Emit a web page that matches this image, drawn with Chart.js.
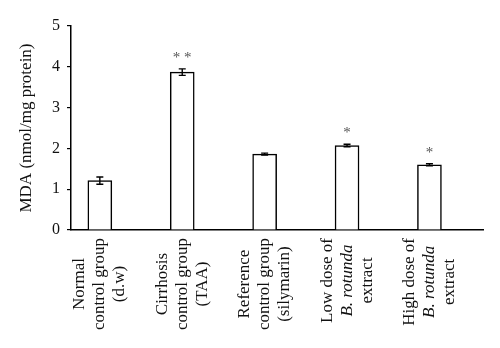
<!DOCTYPE html>
<html>
<head>
<meta charset="utf-8">
<script src="https://cdn.jsdelivr.net/npm/chart.js@4.4.1/dist/chart.umd.min.js"></script>
<style>
html,body{margin:0;padding:0;background:#fff;}
#wrap{width:500px;height:348px;}
</style>
</head>
<body>
<div id="wrap"><canvas id="c" width="500" height="348"></canvas></div>
<script>
const categories = [
  ["Normal", "control group", "(d.w)"],
  ["Cirrhosis", "control group", "(TAA)"],
  ["Reference", "control group", "(silymarin)"],
  ["Low dose of", "B. rotunda", "extract"],
  ["High dose of", "B. rotunda", "extract"]
];
const italicLine = "B. rotunda";
const mdaValues = [1.21, 3.87, 1.86, 2.07, 1.60];
const mdaErrors = [0.09, 0.08, 0.025, 0.03, 0.025];
const significance = ["", "**", "", "*", "*"];
const yTicks = [0, 1, 2, 3, 4, 5];
const yTitle = "MDA (nmol/mg protein)";

const SERIF = "'Liberation Serif', 'DejaVu Serif', serif";

const overlayPlugin = {
  id: 'overlay',
  afterDatasetsDraw(chart) {
    const ctx = chart.ctx;
    const xs = chart.scales.x, ys = chart.scales.y;
    ctx.save();
    ctx.strokeStyle = '#000';
    ctx.lineWidth = 1.4;
    mdaValues.forEach((v, i) => {
      const x = xs.getPixelForValue(i);
      const yTop = ys.getPixelForValue(v + mdaErrors[i]);
      const yBot = ys.getPixelForValue(v - mdaErrors[i]);
      ctx.beginPath();
      ctx.moveTo(x, yTop); ctx.lineTo(x, yBot);
      ctx.moveTo(x - 3.5, yTop); ctx.lineTo(x + 3.5, yTop);
      ctx.moveTo(x - 3.5, yBot); ctx.lineTo(x + 3.5, yBot);
      ctx.stroke();
      if (significance[i]) {
        ctx.fillStyle = '#555';
        ctx.font = "15px " + SERIF;
        ctx.textAlign = 'center';
        ctx.textBaseline = 'middle';
        ctx.fillText(significance[i].split('').join(' '), x, yTop - 11);
      }
    });
    ctx.fillStyle = '#111';
    ctx.textBaseline = 'middle';
    ctx.textAlign = 'center';
    const topY = chart.chartArea.bottom + 8;
    const lineGap = 20;
    categories.forEach((lines, i) => {
      const x = xs.getPixelForValue(i);
      let maxW = 0;
      lines.forEach(l => {
        ctx.font = (l === italicLine ? "italic " : "") + "17px " + SERIF;
        maxW = Math.max(maxW, ctx.measureText(l).width);
      });
      const cy = topY + maxW / 2;
      lines.forEach((l, k) => {
        const lx = x + (k - (lines.length - 1) / 2) * lineGap;
        ctx.save();
        ctx.translate(lx, cy);
        ctx.rotate(-Math.PI / 2);
        ctx.font = (l === italicLine ? "italic " : "") + "17px " + SERIF;
        ctx.fillText(l, 0, 0);
        ctx.restore();
      });
    });
    ctx.restore();
  }
};

new Chart(document.getElementById('c'), {
  type: 'bar',
  data: {
    datasets: [{
      data: mdaValues.map((v, i) => ({ x: i, y: v })),
      backgroundColor: '#fff',
      borderColor: '#000',
      borderWidth: 1.5,
      barThickness: 24
    }]
  },
  options: {
    responsive: false,
    animation: false,
    events: [],
    layout: { padding: { left: 0, right: 17, top: 26, bottom: 0 } },
    plugins: { legend: { display: false }, tooltip: { enabled: false } },
    scales: {
      x: {
        type: 'linear',
        min: -0.35, max: 4.65,
        offset: false,
        grid: { display: false },
        border: { display: true, color: '#000', width: 1.5 },
        ticks: { display: false },
        afterFit(scale) { scale.height = 118; }
      },
      y: {
        min: 0, max: 5,
        afterBuildTicks(scale) { scale.ticks = yTicks.map(v => ({ value: v })); },
        grid: { display: true, drawOnChartArea: false, drawTicks: true, tickLength: 4, color: '#000', lineWidth: 1.2 },
        border: { display: true, color: '#000', width: 1.5 },
        ticks: { color: '#111', padding: 7, font: { family: SERIF, size: 16 } },
        title: { display: true, text: yTitle, color: '#111', font: { family: SERIF, size: 17 }, padding: { top: 16, bottom: 0 } },
        afterFit(scale) { scale.width = 71; }
      }
    }
  },
  plugins: [overlayPlugin]
});
</script>
</body>
</html>
